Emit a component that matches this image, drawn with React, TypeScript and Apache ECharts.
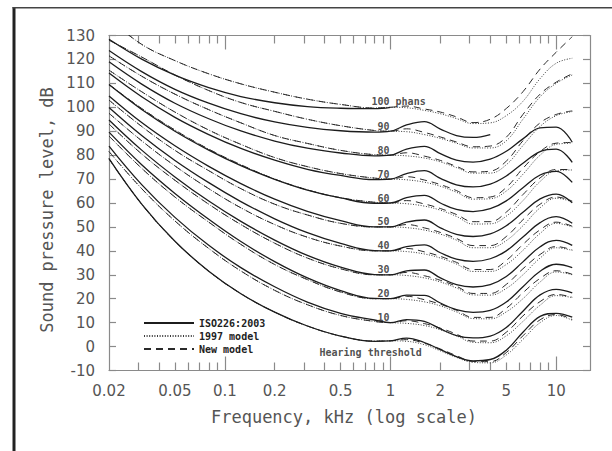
import React, { useEffect, useRef } from "react";
import * as echarts from "echarts";

// Frequencies in kHz
const FREQ = [0.02, 0.0315, 0.05, 0.08, 0.125, 0.2, 0.315, 0.5, 0.8, 1, 1.25, 1.6, 2, 2.5, 3.15, 4, 5, 6.3, 8, 10, 12.5];

// ISO 226:2003 contours (solid), dB SPL
const ISO_0 = [78.5, 59.5, 44.0, 31.5, 22.1, 14.4, 8.6, 4.4, 2.2, 2.4, 3.5, 1.7, -1.3, -4.2, -6.0, -5.4, -1.5, 6.0, 12.6, 13.9, 12.3];
const ISO_10 = [83.8, 67.7, 54.0, 42.3, 33.0, 25.0, 18.6, 13.9, 11.1, 10.0, 11.3, 10.5, 7.4, 4.6, 3.6, 4.4, 8.0, 14.8, 21.6, 23.9, 22.4];
const ISO_20 = [89.6, 76.0, 64.0, 53.2, 43.9, 35.5, 28.7, 23.4, 20.1, 20.0, 21.5, 21.4, 18.2, 15.4, 14.3, 15.1, 18.6, 25.0, 31.5, 34.4, 33.0];
const ISO_30 = [94.7, 82.1, 70.9, 60.8, 52.3, 44.5, 38.1, 33.2, 30.1, 30.0, 31.6, 32.0, 28.7, 25.9, 24.9, 25.9, 29.3, 35.4, 41.7, 44.4, 42.3];
const ISO_40 = [99.9, 88.2, 77.8, 68.5, 60.6, 53.4, 47.6, 43.1, 40.1, 40.0, 41.8, 42.5, 39.2, 36.5, 35.6, 36.7, 40.0, 45.8, 51.8, 54.3, 51.5];
const ISO_50 = [104.7, 93.6, 83.9, 75.3, 68.1, 61.6, 56.5, 52.6, 50.0, 50.0, 52.0, 52.9, 49.6, 46.9, 46.0, 47.1, 50.5, 56.1, 61.7, 63.7, 60.1];
const ISO_60 = [109.5, 99.1, 90.0, 82.1, 75.6, 69.9, 65.4, 62.1, 59.9, 60.0, 62.2, 63.2, 60.0, 57.3, 56.4, 57.6, 60.9, 66.4, 71.7, 73.2, 68.6];
const ISO_70 = [114.3, 104.4, 95.8, 88.6, 82.8, 77.9, 74.1, 71.5, 69.8, 70.0, 72.3, 73.5, 70.3, 67.6, 66.7, 67.9, 71.3, 76.6, 81.5, 82.5, 77.0];
const ISO_80 = [119.0, 109.7, 101.7, 95.2, 90.1, 85.9, 82.9, 80.9, 79.7, 80.0, 82.5, 83.7, 80.6, 77.9, 77.1, 78.3, 81.6, 86.8, 91.4, 91.7, 85.4];
const ISO_90 = [123.7, 114.9, 107.5, 101.7, 97.3, 93.9, 91.6, 90.2, 89.6, 90.0, 92.6, 94.0, 90.9, 88.2, 87.4, 88.6, null, null, null, null, null];
const ISO_100 = [128.4, 120.1, 113.4, 108.2, 104.5, 101.9, 100.3, 99.6, 99.4, 100.0, null, null, null, null, null, null, null, null, null, null, null];

// 1997 model (dotted)
const M97_0 = [78.5, 59.5, 44.0, 31.5, 22.1, 14.4, 8.6, 4.4, 2.3, 2.4, 2.2, 0.8, -1.8, -4.5, -6.6, -6.8, -3.5, 3.0, 10.0, 13.0, 11.0];
const M97_10 = [81.5, 66.0, 52.5, 41.0, 31.6, 23.5, 17.5, 13.0, 10.5, 10.0, 9.7, 8.8, 7.0, 4.5, 1.8, 1.6, 4.5, 10.5, 17.3, 21.3, 20.5];
const M97_20 = [88.0, 74.5, 62.5, 52.0, 42.7, 34.3, 28.0, 22.8, 20.0, 20.0, 19.7, 18.7, 17.0, 14.5, 11.7, 11.6, 14.5, 20.0, 27.0, 31.2, 30.0];
const M97_30 = [93.0, 80.5, 69.5, 59.5, 51.0, 43.2, 37.0, 32.5, 30.0, 30.0, 29.7, 28.7, 27.0, 24.5, 21.6, 21.5, 24.3, 30.0, 37.0, 41.3, 40.2];
const M97_40 = [97.5, 86.0, 75.5, 66.0, 58.0, 51.0, 45.7, 42.0, 40.0, 40.0, 39.7, 38.7, 37.0, 34.5, 31.4, 31.4, 34.3, 40.2, 47.3, 51.5, 50.0];
const M97_50 = [103.0, 92.0, 82.0, 73.5, 66.0, 59.5, 55.0, 51.5, 50.0, 50.0, 49.7, 48.7, 47.0, 44.5, 41.3, 41.3, 44.3, 50.5, 58.0, 62.0, 60.5];
const M97_60 = [109.5, 99.5, 90.5, 82.5, 76.0, 70.0, 65.5, 62.2, 60.3, 60.0, 59.7, 58.7, 57.0, 54.4, 51.2, 51.3, 54.5, 61.0, 69.0, 73.5, 73.8];
const M97_70 = [115.5, 106.5, 98.0, 90.5, 84.5, 79.0, 75.2, 72.3, 70.4, 70.0, 69.7, 68.7, 67.0, 64.5, 61.6, 61.8, 65.0, 72.0, 80.0, 84.5, 85.0];
const M97_80 = [121.5, 113.0, 105.5, 99.0, 93.5, 88.2, 84.9, 82.0, 80.2, 80.0, 79.7, 78.8, 77.2, 74.8, 72.5, 72.5, 76.0, 84.0, 92.0, 96.5, 98.2];
const M97_90 = [128.0, 121.0, 113.5, 107.0, 102.0, 98.3, 95.0, 92.3, 90.3, 90.0, 89.8, 88.6, 87.0, 85.0, 83.0, 83.0, 86.0, 95.0, 104.4, 110.0, 113.5];
const M97_100 = [137.0, 126.3, 119.5, 114.0, 109.8, 106.3, 103.4, 101.2, 99.7, 100.0, 99.8, 98.7, 97.3, 95.3, 93.2, 93.5, 96.5, 102.5, 112.0, 118.4, 120.5];

// New model (dashed)
const NEW_0 = [78.5, 59.5, 44.0, 31.5, 22.1, 14.4, 8.6, 4.4, 2.3, 2.4, 2.9, 1.4, -1.0, -3.8, -6.2, -6.3, -2.5, 4.5, 11.2, 13.4, 11.3];
const NEW_10 = [81.5, 66.0, 52.5, 41.0, 31.6, 23.5, 17.5, 13.0, 10.5, 10.0, 10.8, 9.6, 7.7, 5.2, 2.3, 2.3, 6.0, 12.8, 18.8, 21.8, 20.6];
const NEW_20 = [88.0, 74.5, 62.5, 52.0, 42.7, 34.3, 28.0, 22.8, 20.0, 20.0, 21.0, 19.6, 17.7, 15.2, 12.2, 12.2, 16.0, 22.5, 28.5, 31.7, 30.2];
const NEW_30 = [93.0, 80.5, 69.5, 59.5, 51.0, 43.2, 37.0, 32.5, 30.0, 30.0, 31.0, 29.6, 27.7, 25.2, 22.2, 22.2, 26.0, 32.5, 38.5, 41.8, 40.4];
const NEW_40 = [97.5, 86.0, 75.5, 66.0, 58.0, 51.0, 45.7, 42.0, 40.0, 40.0, 41.0, 39.6, 37.7, 35.2, 32.2, 32.2, 36.0, 42.7, 48.8, 52.0, 50.3];
const NEW_50 = [103.0, 92.0, 82.0, 73.5, 66.0, 59.5, 55.0, 51.5, 50.0, 50.0, 51.0, 49.6, 47.7, 45.2, 42.2, 42.2, 46.0, 53.0, 59.5, 62.5, 60.8];
const NEW_60 = [109.5, 99.5, 90.5, 82.5, 76.0, 70.0, 65.5, 62.2, 60.3, 60.0, 61.0, 59.6, 57.7, 55.2, 52.2, 52.2, 56.2, 63.5, 70.5, 74.0, 74.0];
const NEW_70 = [115.5, 106.5, 98.0, 90.5, 84.5, 79.0, 75.2, 72.3, 70.4, 70.0, 71.0, 69.6, 67.7, 65.2, 62.2, 62.5, 66.5, 74.5, 81.5, 85.0, 85.3];
const NEW_80 = [121.5, 113.0, 105.5, 99.0, 93.5, 88.2, 84.9, 82.0, 80.2, 80.0, 81.0, 79.6, 77.8, 75.3, 73.0, 73.3, 77.5, 86.0, 93.5, 97.0, 98.5];
const NEW_90 = [128.0, 121.0, 113.5, 107.0, 102.0, 98.3, 95.0, 92.3, 90.3, 90.0, 91.0, 89.5, 87.6, 85.5, 83.5, 83.8, 87.5, 97.0, 105.5, 110.5, 114.0];
const NEW_100 = [137.0, 126.3, 119.5, 114.0, 109.8, 106.3, 103.4, 101.2, 99.7, 100.0, 100.5, 99.3, 98.0, 96.0, 93.6, 95.0, 99.5, 106.5, 116.0, 123.0, 129.5];

// Axis ticks & labels
const X_LABELS = [0.02, 0.05, 0.1, 0.2, 0.5, 1, 2, 5, 10];
const X_MAJOR = [0.1, 1, 10];
const X_MINOR = [0.03, 0.04, 0.05, 0.06, 0.07, 0.08, 0.09, 0.2, 0.3, 0.4, 0.5, 0.6, 0.7, 0.8, 0.9, 2, 3, 4, 5, 6, 7, 8, 9];
const PHON_LABELS = [10, 20, 30, 40, 50, 60, 70, 80, 90];
const TOP_LABEL = "100 phans";
const THRESHOLD_LABEL = "Hearing threshold";
const LEGEND_NAMES = ["ISO226:2003", "1997 model", "New model"];

const ISO_CURVES = [ISO_0, ISO_10, ISO_20, ISO_30, ISO_40, ISO_50, ISO_60, ISO_70, ISO_80, ISO_90, ISO_100];
const M97_CURVES = [M97_0, M97_10, M97_20, M97_30, M97_40, M97_50, M97_60, M97_70, M97_80, M97_90, M97_100];
const NEW_CURVES = [NEW_0, NEW_10, NEW_20, NEW_30, NEW_40, NEW_50, NEW_60, NEW_70, NEW_80, NEW_90, NEW_100];

const MONO = "DejaVu Sans Mono";
const AXIS_GRAY = "#8a8a8a";

export default function App() {
  const ref = useRef<HTMLDivElement>(null);

  useEffect(() => {
    if (!ref.current) return;
    const chart = echarts.init(ref.current, undefined, { renderer: "svg" });

    const solidStyle = { color: "#1c1c1c", width: 1.3, type: "solid" };
    const dottedStyle = { color: "#3a3a3a", width: 1, type: [1, 1.6] };
    const dashedStyle = { color: "#2a2a2a", width: 1, type: [7, 5] };

    const mkLine = (name: string, vals: (number | null)[], lineStyle: any, z: number) => ({
      type: "line",
      name,
      xAxisIndex: 0,
      yAxisIndex: 0,
      data: FREQ.map((f, i) => [f, vals[i]]).filter((p) => p[1] !== null),
      symbol: "none",
      showSymbol: false,
      smooth: 0.4,
      clip: true,
      silent: true,
      z,
      itemStyle: { color: lineStyle.color, opacity: 0 },
      lineStyle,
    });

    const series: any[] = [];
    ISO_CURVES.forEach((c) => series.push(mkLine(LEGEND_NAMES[0], c, solidStyle, 4)));
    M97_CURVES.forEach((c) => series.push(mkLine(LEGEND_NAMES[1], c, dottedStyle, 3)));
    NEW_CURVES.forEach((c) => series.push(mkLine(LEGEND_NAMES[2], c, dashedStyle, 3)));

    const labelFont = { fontFamily: MONO, fontSize: 10, fontWeight: "bold", color: "#222" };

    series.push({
      type: "scatter",
      name: "phon labels",
      symbolSize: 0,
      silent: true,
      z: 6,
      data: PHON_LABELS.map((p) => [1, p]),
      label: {
        show: true,
        position: [-1, 0],
        align: "right",
        verticalAlign: "bottom",
        formatter: (p: any) => String(p.value[1]),
        ...labelFont,
      },
    });
    series.push({
      type: "scatter",
      name: "top label",
      symbolSize: 0,
      silent: true,
      z: 6,
      data: [[1, 100]],
      label: {
        show: true,
        position: [-19, -1],
        align: "left",
        verticalAlign: "bottom",
        formatter: () => TOP_LABEL,
        ...labelFont,
      },
    });
    series.push({
      type: "scatter",
      name: "threshold label",
      symbolSize: 0,
      silent: true,
      z: 6,
      data: [[1, 0]],
      label: {
        show: true,
        position: [-71, 1],
        align: "left",
        verticalAlign: "top",
        formatter: () => THRESHOLD_LABEL,
        ...labelFont,
      },
    });

    const xBase = {
      type: "log",
      logBase: 10,
      min: 0.02,
      max: 16,
      gridIndex: 0,
      splitLine: { show: false },
    };
    const fmt = (v: number) => String(Math.round(v * 1000) / 1000);

    chart.setOption({
      animation: false,
      backgroundColor: "#ffffff",
      grid: { left: 109, right: 22, top: 35.5, bottom: 80.5, containLabel: false },
      legend: {
        data: LEGEND_NAMES,
        orient: "vertical",
        left: 138,
        top: 313,
        itemWidth: 50,
        itemHeight: 12,
        itemGap: 3,
        selectedMode: false,
        itemStyle: { opacity: 0 },
        textStyle: { fontFamily: MONO, fontSize: 10, fontWeight: "bold", color: "#222" },
      },
      xAxis: [
        {
          ...xBase,
          position: "bottom",
          axisLine: { show: true, onZero: false, lineStyle: { color: AXIS_GRAY, width: 1.2 } },
          axisTick: { show: true, inside: true, length: 14, customValues: X_MAJOR, lineStyle: { color: AXIS_GRAY, width: 1.2 } },
          axisLabel: {
            show: true,
            customValues: X_LABELS,
            formatter: fmt,
            margin: 13,
            fontFamily: "DejaVu Sans",
            fontSize: 15,
            color: "#555",
          },
        },
        {
          ...xBase,
          position: "bottom",
          axisLine: { show: false, onZero: false },
          axisTick: { show: true, inside: true, length: 8, customValues: X_MINOR, lineStyle: { color: AXIS_GRAY, width: 1.2 } },
          axisLabel: { show: false },
        },
        {
          ...xBase,
          position: "top",
          axisLine: { show: true, onZero: false, lineStyle: { color: AXIS_GRAY, width: 1.2 } },
          axisTick: { show: true, inside: true, length: 14, customValues: X_MAJOR, lineStyle: { color: AXIS_GRAY, width: 1.2 } },
          axisLabel: { show: false },
        },
        {
          ...xBase,
          position: "top",
          axisLine: { show: false, onZero: false },
          axisTick: { show: true, inside: true, length: 8, customValues: X_MINOR, lineStyle: { color: AXIS_GRAY, width: 1.2 } },
          axisLabel: { show: false },
        },
      ],
      yAxis: [
        {
          type: "value",
          min: -10,
          max: 130,
          interval: 10,
          position: "left",
          splitLine: { show: false },
          axisLine: { show: true, onZero: false, lineStyle: { color: AXIS_GRAY, width: 1.2 } },
          axisTick: { show: true, inside: true, length: 7, lineStyle: { color: AXIS_GRAY, width: 1.2 } },
          axisLabel: { show: true, margin: 14, fontFamily: "DejaVu Sans", fontSize: 15, color: "#555" },
        },
        {
          type: "value",
          min: -10,
          max: 130,
          interval: 10,
          position: "right",
          splitLine: { show: false },
          axisLine: { show: true, onZero: false, lineStyle: { color: AXIS_GRAY, width: 1.2 } },
          axisTick: { show: true, inside: true, length: 7, lineStyle: { color: AXIS_GRAY, width: 1.2 } },
          axisLabel: { show: false },
        },
      ],
      graphic: [
        { type: "rect", silent: true, shape: { x: 12.5, y: 7, width: 3, height: 444 }, style: { fill: "#222" } },
        { type: "rect", silent: true, shape: { x: 12.5, y: 7, width: 600, height: 1.5 }, style: { fill: "#444" } },
        {
          type: "text",
          silent: true,
          x: 47,
          y: 210,
          rotation: Math.PI / 2,
          style: {
            text: "Sound pressure level, dB",
            fontFamily: MONO,
            fontSize: 17,
            fill: "#555",
            align: "center",
            verticalAlign: "middle",
          },
        },
        {
          type: "text",
          silent: true,
          x: 344,
          y: 417,
          style: {
            text: "Frequency, kHz (log scale)",
            fontFamily: MONO,
            fontSize: 17,
            fill: "#555",
            align: "center",
            verticalAlign: "middle",
          },
        },
      ],
      series,
    });

    return () => chart.dispose();
  }, []);

  return (
    <div
      ref={ref}
      style={{ position: "fixed", left: 0, top: 0, width: 612, height: 451, background: "#fff" }}
    />
  );
}
